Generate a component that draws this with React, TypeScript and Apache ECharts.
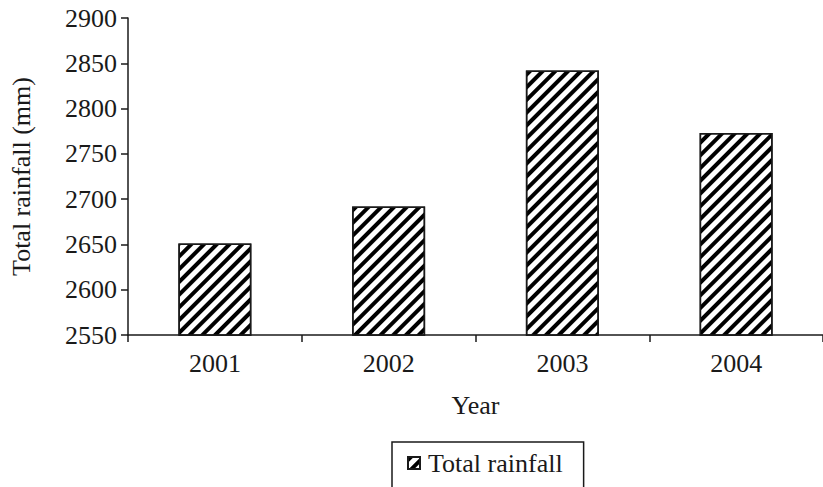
import React, { useEffect, useRef } from "react";
import * as echarts from "echarts";

const years = ["2001", "2002", "2003", "2004"];
const rainfall = [2651, 2692, 2842, 2773];
const yMin = 2550;
const yMax = 2900;
const yStep = 50;
const seriesName = "Total rainfall";
const xTitle = "Year";
const yTitle = "Total rainfall (mm)";

const FONT = "Liberation Serif";
const FS = 26;
const INK = "#1a1a1a";

export default function App() {
  const ref = useRef<HTMLDivElement>(null);
  useEffect(() => {
    if (!ref.current) return;
    const chart = echarts.init(ref.current, null, { renderer: "svg" });
    const decal = {
      symbol: "rect",
      color: "#000",
      dashArrayX: [1, 0],
      dashArrayY: [4, 5],
      rotation: -Math.PI / 4,
      symbolSize: 1,
    };
    chart.setOption({
      animation: false,
      backgroundColor: "#fff",
      textStyle: { fontFamily: FONT },
      grid: { left: 122, top: 18, bottom: 152, right: -7 },
      legend: {
        top: 442,
        left: 392,
        data: [seriesName],
        borderColor: INK,
        borderWidth: 1.5,
        borderRadius: 0,
        padding: [8, 21, 14, 15],
        itemWidth: 12,
        itemHeight: 12,
        itemGap: 0,
        icon: "rect",
        textStyle: { fontFamily: FONT, fontSize: FS, color: INK, padding: [0, 0, 0, 3] },
      },
      xAxis: {
        type: "category",
        data: years,
        name: xTitle,
        nameLocation: "middle",
        nameGap: 57,
        nameTextStyle: { fontFamily: FONT, fontSize: FS, color: INK },
        axisLine: { lineStyle: { color: INK, width: 1.5 } },
        axisTick: { show: true, length: 7, lineStyle: { color: INK, width: 1.5 } },
        axisLabel: { fontFamily: FONT, fontSize: FS, color: INK, margin: 15 },
      },
      yAxis: {
        type: "value",
        min: yMin,
        max: yMax,
        interval: yStep,
        name: yTitle,
        nameLocation: "middle",
        nameGap: 94,
        nameTextStyle: { fontFamily: FONT, fontSize: FS, color: INK },
        axisLine: { show: true, lineStyle: { color: INK, width: 1.5 } },
        axisTick: { show: true, length: 7, lineStyle: { color: INK, width: 1.5 } },
        axisLabel: {
          fontFamily: FONT,
          fontSize: FS,
          color: INK,
          margin: 11,
          formatter: (v: number) => String(v),
        },
        splitLine: { show: false },
      },
      series: [
        {
          name: seriesName,
          type: "bar",
          data: rainfall,
          barWidth: 73,
          itemStyle: {
            color: "#fff",
            borderColor: INK,
            borderWidth: 1.5,
            decal,
          },
        },
      ],
    });
    return () => chart.dispose();
  }, []);
  return <div ref={ref} style={{ width: 823, height: 487, position: "absolute", left: 0, top: 0 }} />;
}
